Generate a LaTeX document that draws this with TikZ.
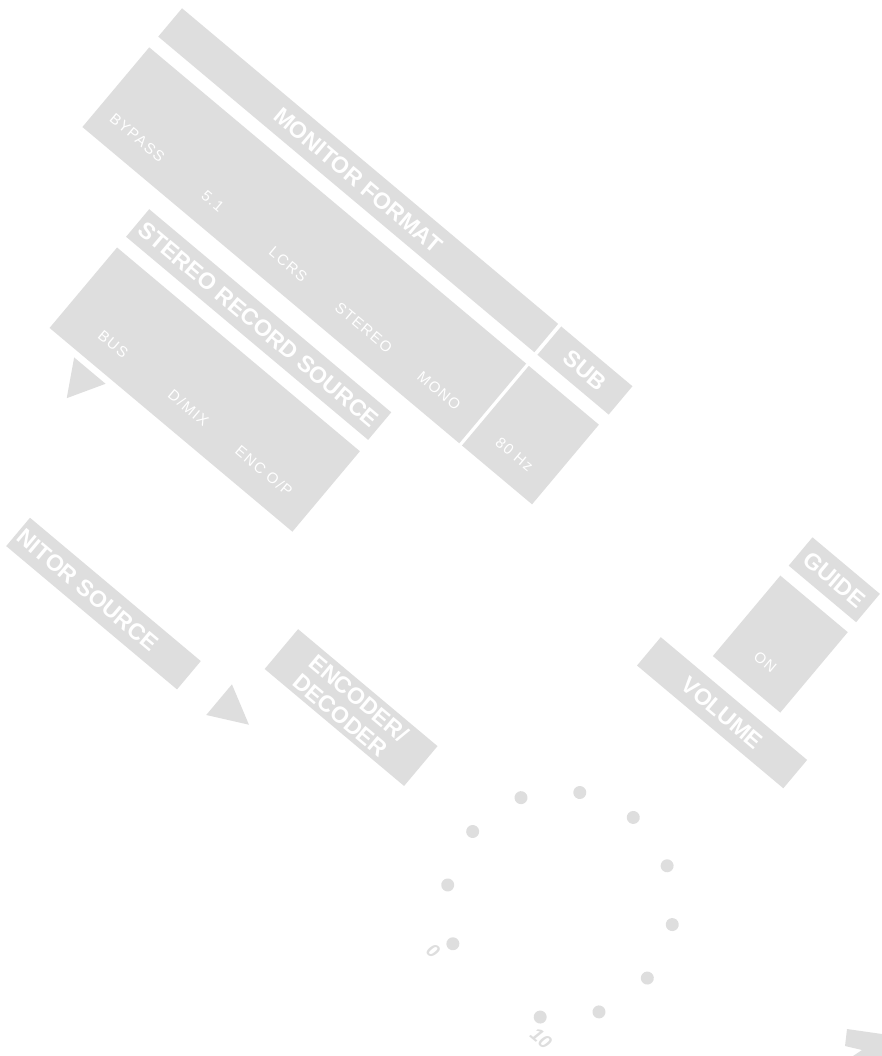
\documentclass[tikz,border=0pt]{standalone}
\usepackage{fontspec}
\setmainfont{Liberation Sans}
\usepackage{tikz}
\usetikzlibrary{positioning}
\definecolor{panelgray}{RGB}{222,222,222}
\tikzset{
  bar/.style={fill=panelgray, inner sep=0pt, anchor=north west, text=white,
    align=left, font=\bfseries\fontsize{23}{25}\selectfont},
  bartext/.style={text=white, inner sep=0pt, font=\bfseries\fontsize{23}{25}\selectfont},
  selpanel/.style={fill=panelgray, inner sep=0pt, anchor=north west},
  optlabel/.style={text=white, inner sep=0pt,
    font=\fontsize{15}{17}\selectfont\addfontfeature{LetterSpace=10}},
  pointer/.style={fill=panelgray},
  knobdot/.style={circle, fill=panelgray, inner sep=0pt, minimum size=13pt},
  scalenum/.style={text=panelgray, inner sep=0pt, font=\bfseries\itshape\fontsize{19}{19}\selectfont}
}

\begin{document}
\begin{tikzpicture}[x=1pt, y=-1pt]
  \useasboundingbox (0,0) rectangle (882,1056);
  \clip (0,0) rectangle (882,1056);
  \begin{scope}[shift={(182,8)}, rotate=-40, transform shape]
    % top row of captions
    \node[bar, minimum width=491pt, minimum height=37pt] (monfmt) at (0,0) {MONITOR FORMAT};
    \node[bar, minimum width=93pt, minimum height=37pt] (sub) at (495,0) {SUB};
    \node[bar, minimum width=88pt, minimum height=37pt] (guide) at (823,0) {GUIDE};
    % selector panels
    \node[selpanel, minimum width=492pt, minimum height=104pt] (fmtpanel) at (0,51) {};
    \node[selpanel, minimum width=91.5pt, minimum height=104pt] (hzpanel) at (495.5,51) {};
    \node[selpanel, minimum width=88pt, minimum height=105pt] (onpanel) at (823,50) {};
    \node[optlabel] (bypass) at (49,128) {BYPASS};
    \node[optlabel] (fivone) at (147.5,128) {5.1};
    \node[optlabel] (lcrs) at (246,128) {LCRS};
    \node[optlabel] (stereo) at (344.5,128) {STEREO};
    \node[optlabel] (mono) at (443,128) {MONO};
    \node[optlabel] (hz) at (541.5,128) {80 Hz};
    \node[optlabel] (on) at (867,126) {ON};
    % stereo record source
    \node[bar, minimum width=316pt, minimum height=36pt] (recsrc) at (104,175) {STEREO RECORD SOURCE};
    \node[bar, minimum width=191pt, minimum height=37pt] (volume) at (771,174) {VOLUME};
    \node[selpanel, minimum width=317pt, minimum height=105pt] (recpanel) at (104,225) {};
    \node[optlabel] (bus) at (163.5,302) {BUS};
    \node[optlabel] (dmix) at (262,302) {D/MIX};
    \node[optlabel] (encop) at (360.5,302) {ENC O/P};
    \fill[pointer] (142,337) -- (183,337) -- (162.5,373) -- cycle;
    % monitor source and encoder
    \node[bar, minimum width=182pt, minimum height=52pt] (encdec) at (488,401) {ENCODER/\\DECODER};
    \node[bar, minimum width=223pt, minimum height=37pt] (monsrc) at (211,488) {};
    \node[bartext, anchor=east] (monsrctext) at (390,506.5) {NITOR SOURCE};
    \fill[pointer] (473,486) -- (473,526) -- (512,506) -- cycle;
    % volume scale
    \coordinate (knob) at (866,444);
    \foreach \a in {0,...,10}
      \node[knobdot] (dot\a) at ([shift={({120+30*\a}:114)}]knob) {};
    \node[scalenum] (zero) at ([shift={(120:135)}]knob) {0};
    \node[scalenum] (ten) at ([shift={(58:135)}]knob) {10};
  \end{scope}
  \fill[pointer] (847,1029) -- (882,1034) -- (882,1056) -- (853,1056) -- (862,1050) -- (845,1046) -- cycle;
\end{tikzpicture}
\end{document}
